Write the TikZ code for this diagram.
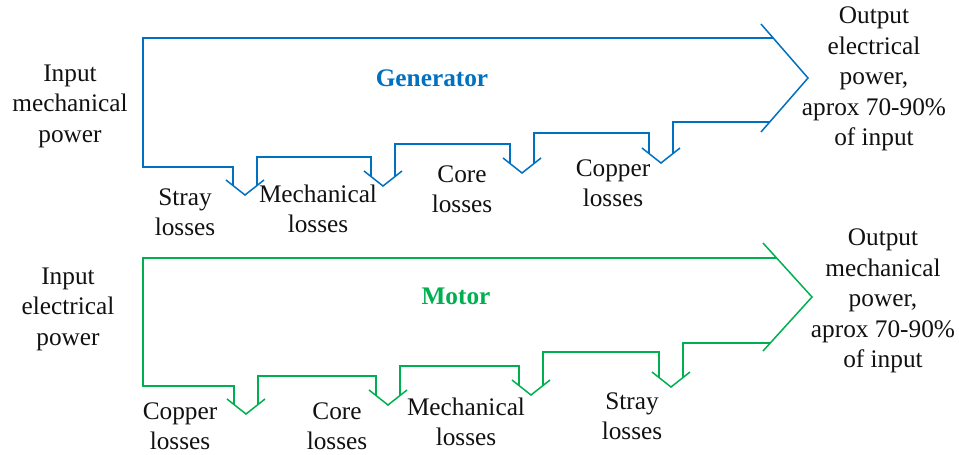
\documentclass[tikz,border=0pt]{standalone}
\usepackage{fontspec}
\setmainfont{Liberation Serif}
\usepackage{xcolor}
\usepackage{tikz}
\definecolor{genBlue}{HTML}{0070C0}
\definecolor{motGreen}{HTML}{00B050}
\definecolor{lblInk}{HTML}{111111}

\begin{document}
\begin{tikzpicture}[
  x=1pt, y=-1pt,
  font=\fontsize{25.3}{30.5}\selectfont,
  lbl/.style={align=center,inner sep=0pt,text=lblInk},
  title/.style={font=\fontsize{25.3}{30.5}\selectfont\bfseries,text=#1,inner sep=0pt},
  band/.style={draw=#1,line width=1.5pt,line join=miter},
  tip/.style={draw=#1,line width=1.5pt,line join=miter}
]
  \useasboundingbox (0,0) rectangle (959,455);

  % generator
  \node[lbl] (ginput) at (70,106) {Input\\mechanical\\power};
  \node[title=genBlue] (gtitle) at (432,78) {Generator};
  \node[lbl] (goutput) at (874,79) {Output\\electrical\\power,\\aprox 70-90\%\\of input};
  \node[lbl] (gstray) at (185,212) {Stray\\losses};
  \node[lbl] (gmech) at (318,209) {Mechanical\\losses};
  \node[lbl] (gcore) at (462,189) {Core\\losses};
  \node[lbl] (gcopper) at (613,183) {Copper\\losses};
  \draw[band=genBlue] (773.2,38) -- (143,38) -- (143,167) -- (233,167) -- (233,185.5);
  \draw[band=genBlue] (257,185.5) -- (257,157) -- (371,157) -- (371,176.5);
  \draw[band=genBlue] (395,176.5) -- (395,144) -- (510,144) -- (510,163.5);
  \draw[band=genBlue] (534,163.5) -- (534,133) -- (649,133) -- (649,153.5);
  \draw[band=genBlue] (673,153.5) -- (673,122) -- (769.7,122);
  \draw[tip=genBlue] (226,180) -- (245,195) -- (264,180);
  \draw[tip=genBlue] (364,171) -- (383,186) -- (402,171);
  \draw[tip=genBlue] (503,158) -- (522,173) -- (541,158);
  \draw[tip=genBlue] (642,148) -- (661,163) -- (680,148);
  \draw[tip=genBlue] (761,24) -- (808,78) -- (761,132);

  % motor
  \node[lbl] (minput) at (68,309) {Input\\electrical\\power};
  \node[title=motGreen] (mtitle) at (456,296) {Motor};
  \node[lbl] (moutput) at (883,301) {Output\\mechanical\\power,\\aprox 70-90\%\\of input};
  \node[lbl] (mcopper) at (180,426) {Copper\\losses};
  \node[lbl] (mcore) at (337,426) {Core\\losses};
  \node[lbl] (mmech) at (466,422) {Mechanical\\losses};
  \node[lbl] (mstray) at (632,416) {Stray\\losses};
  \draw[band=motGreen] (776.6,258) -- (143,258) -- (143,386) -- (234,386) -- (234,404.5);
  \draw[band=motGreen] (258,404.5) -- (258,376) -- (376,376) -- (376,395.5);
  \draw[band=motGreen] (400,395.5) -- (400,366) -- (519,366) -- (519,385.5);
  \draw[band=motGreen] (543,385.5) -- (543,352) -- (659,352) -- (659,377.5);
  \draw[band=motGreen] (683,377.5) -- (683,343) -- (770,343);
  \draw[tip=motGreen] (227,399) -- (246,414) -- (265,399);
  \draw[tip=motGreen] (369,390) -- (388,405) -- (407,390);
  \draw[tip=motGreen] (512,380) -- (531,395) -- (550,380);
  \draw[tip=motGreen] (652,372) -- (671,387) -- (690,372);
  \draw[tip=motGreen] (763,243) -- (812,297) -- (763,351);
\end{tikzpicture}
\end{document}
